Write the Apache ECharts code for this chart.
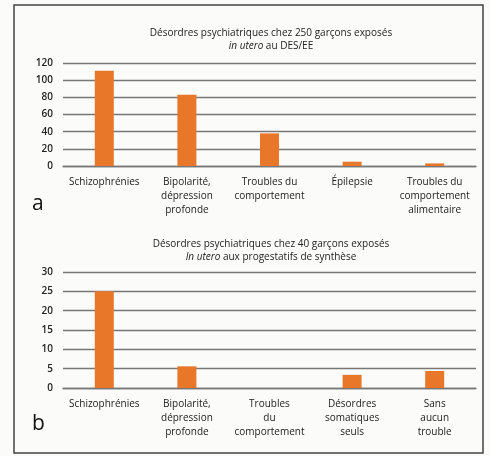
<!DOCTYPE html>
<html><head><meta charset="utf-8">
<script src="https://cdn.jsdelivr.net/npm/echarts@6/dist/echarts.min.js"></script>
<style>html,body{margin:0;padding:0;background:#fbfbfa;}#c{width:490px;height:456px;}</style>
</head><body><div id="c"></div>
<script>
const catsA = ["Schizophrénies", "Bipolarité,\ndépression\nprofonde", "Troubles du\ncomportement", "Épilepsie", "Troubles du\ncomportement\nalimentaire"];
const valsA = [111, 83, 38, 5, 3];
const ticksA = { min: 0, max: 120, interval: 20 };
const catsB = ["Schizophrénies", "Bipolarité,\ndépression\nprofonde", "Troubles\ndu\ncomportement", "Désordres\nsomatiques\nseuls", "Sans\naucun\ntrouble"];
const valsB = [25, 5.6, 0, 3.4, 4.4];
const ticksB = { min: 0, max: 30, interval: 5 };

const FONT = "'Open Sans', 'Noto Sans', sans-serif";
const chart = echarts.init(document.getElementById('c'));
const axisY = (t) => ({
  type: 'value', min: t.min, max: t.max, interval: t.interval,
  axisLine: { show: false }, axisTick: { show: false },
  axisLabel: { color: '#222', fontSize: 10, fontWeight: 600, fontFamily: FONT, margin: 10 },
  splitLine: { lineStyle: { color: '#777', width: 1.3 } }
});
const axisX = (cats, idx) => ({
  type: 'category', data: cats, gridIndex: idx,
  axisLine: { lineStyle: { color: '#777', width: 1.3 } }, axisTick: { show: false },
  axisLabel: { color: '#222', fontSize: 10, fontFamily: FONT, lineHeight: 14, interval: 0, margin: 9 }
});
const titleStyle = { fontSize: 10, fontWeight: 'normal', color: '#222', fontFamily: FONT, lineHeight: 13,
  rich: { i: { fontStyle: 'italic', fontSize: 10, fontFamily: FONT, color: '#222' } } };
chart.setOption({
  animation: false,
  backgroundColor: '#fbfbfa',
  title: [
    { text: 'Désordres psychiatriques chez 250 garçons exposés\n{i|in utero} au DES/EE', left: 266, top: 22, textAlign: 'center', textStyle: titleStyle },
    { text: 'Désordres psychiatriques chez 40 garçons exposés\n{i|In utero} aux progestatifs de synthèse', left: 266, top: 233, textAlign: 'center', textStyle: titleStyle }
  ],
  grid: [
    { left: 63, right: 14, top: 63, height: 103 },
    { left: 63, right: 14, top: 272, height: 116 }
  ],
  xAxis: [axisX(catsA, 0), axisX(catsB, 1)],
  yAxis: [Object.assign(axisY(ticksA), { gridIndex: 0 }), Object.assign(axisY(ticksB), { gridIndex: 1 })],
  series: [
    { type: 'bar', data: valsA, xAxisIndex: 0, yAxisIndex: 0, barWidth: 19, itemStyle: { color: '#e8772a' } },
    { type: 'bar', data: valsB, xAxisIndex: 1, yAxisIndex: 1, barWidth: 19, itemStyle: { color: '#e8772a' } }
  ],
  graphic: [
    { type: 'rect', shape: { x: 14, y: 5, width: 469, height: 448 }, style: { fill: 'none', stroke: '#444', lineWidth: 1.5 } },
    { type: 'text', left: 32, top: 194, style: { text: 'a', fontSize: 21, fontFamily: FONT, fill: '#111' } },
    { type: 'text', left: 32, top: 414, style: { text: 'b', fontSize: 21, fontFamily: FONT, fill: '#111' } }
  ]
});
</script></body></html>
